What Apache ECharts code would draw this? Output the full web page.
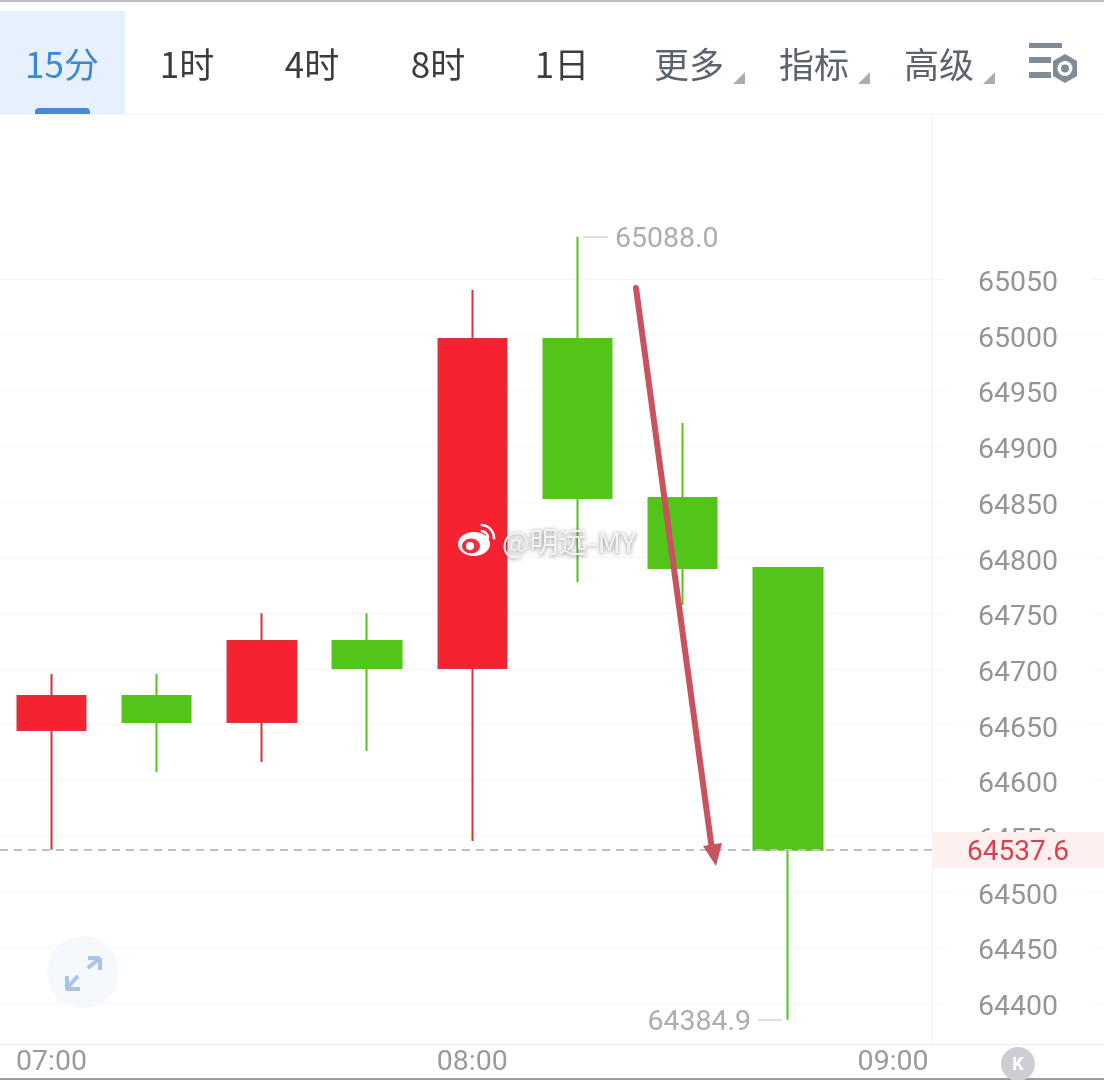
<!DOCTYPE html>
<html><head><meta charset="utf-8">
<style>html,body{margin:0;padding:0;background:#fff}#c{width:1104px;height:1080px}</style>
<script src="https://cdn.jsdelivr.net/npm/echarts@6/dist/echarts.min.js"></script>
</head><body><div id="c"></div>
<script>
const categories=['07:00','07:15','07:30','07:45','08:00','08:15','08:30','08:45','09:00','09:15','09:30'];
const openVals=[64645,64675.6,64652.3,64725,64700.7,64996,64853.4,64790.5];
const closeVals=[64675.6,64652.3,64725,64700.7,64996,64853.4,64790.5,64537.6];
const lowVals=[64537.6,64607.4,64616.3,64626.2,64545.4,64778,64757.3,64384.9];
const highVals=[64695.4,64695.4,64750,64750,65040,65088,64920.7,64790.5];
const yTicks=[64400,64450,64500,64550,64600,64650,64700,64750,64800,64850,64900,64950,65000,65050];
const lastPrice=64537.6, maxPrice=65088.0, minPrice=64384.9;
const tabs=['15分','1时','4时','8时','1日','更多','指标','高级'];
const tabX=[62,187,312,438,562,689,814,939];

const FONT='"Noto Sans CJK SC"';
const NUM='Roboto';
const g=[];
function rect(x,y,w,h,fill,r){g.push({type:'rect',z:100,shape:{x,y,width:w,height:h,r:r||0},style:{fill}});}
function line(x1,y1,x2,y2,stroke,w,cap){g.push({type:'line',z:100,shape:{x1,y1,x2,y2},style:{stroke,lineWidth:w,lineCap:cap||'butt'}});}
function text(t,x,y,font,fill,align,extra){g.push({type:'text',z:102,x,y,style:Object.assign({text:t,font,fill,align:align||'center',verticalAlign:'middle'},extra||{})});}
function poly(points,fill,z){g.push({type:'polygon',z:z||100,shape:{points},style:{fill}});}

// frame
rect(0,0,1104,2,'#bdbdbd');
rect(0,1078,1104,2,'#9a9a9a');
// toolbar
rect(0,11,125,103,'#e6f1fd');
rect(35,108,55,6,'#4a88d8',[4,4,0,0]);
line(0,114.5,1104,114.5,'#f4f4f4',1);
tabs.forEach((t,i)=>{
  const col=i===0?'#3b87d9':(i<5?'#3c3c3c':'#5c636b');
  text(t,tabX[i],65,'400 35px '+FONT,col);
  if(i>4){const ax=tabX[i]+56;poly([[ax-12,84],[ax,84],[ax,72]],'#a9aeb5');}
});
// settings icon
rect(1029,43,33,5,'#7f8b99');
rect(1029,57,22,6,'#7f8b99');
rect(1029,72,22,6,'#7f8b99');
g.push({type:'polygon',z:100,shape:{points:[[1065,54],[1077,61],[1077,76],[1065,83],[1053,76],[1053,61]]},style:{fill:'#7f8b99'}});
g.push({type:'circle',z:101,shape:{cx:1065,cy:68.5,r:7.5},style:{fill:'#fff'}});
g.push({type:'circle',z:101,shape:{cx:1065,cy:68.5,r:4},style:{fill:'#7f8b99'}});
// panel lines
line(932.5,114,932.5,1044,'#f0f0f0',1);
// last price tag
rect(932,832,172,36,'#fdf0ef');
text(String(lastPrice),1018,853,'400 28px '+NUM,'#d9404f');
// expand button
g.push({type:'circle',z:100,shape:{cx:83,cy:972,r:36},style:{fill:'#f5f8fd'}});
line(88,968,100,958,'#a9c4e8',4);line(88,958,100,958,'#a9c4e8',4);line(100,958,100,970,'#a9c4e8',4);
line(78,976,67,988,'#a9c4e8',4);line(67,976,67,990,'#a9c4e8',4);line(66,989,80,989,'#a9c4e8',4);
// collapse button
g.push({type:'circle',z:100,shape:{cx:1018,cy:1064,r:17},style:{fill:'#cdced3'}});
text('K',1018,1065,'700 18px '+NUM,'#fff');
// arrow annotation
line(636,288,712,850,'#c9525f',6,'round');
poly([[703,846],[722,843],[716,866]],'#c9525f',101);
// watermark
g.push({type:'ellipse',z:103,shape:{cx:474,cy:544,rx:16,ry:12},style:{fill:'#fff'}});
g.push({type:'ellipse',z:104,shape:{cx:471,cy:546,rx:9,ry:7.5},style:{fill:'#e8343f'}});
g.push({type:'circle',z:105,shape:{cx:470,cy:546,r:4},style:{fill:'#fff'}});
g.push({type:'arc',z:103,shape:{cx:481,cy:538,r:7,startAngle:-1.6,endAngle:0.1},style:{stroke:'#fff',lineWidth:2.5,fill:null}});
g.push({type:'arc',z:103,shape:{cx:481,cy:538,r:13,startAngle:-1.6,endAngle:0.1},style:{stroke:'#fff',lineWidth:2.5,fill:null}});
text('@明远-MY',502,542,'400 29px '+FONT,'#f2f2f2','left',{textShadowColor:'rgba(80,80,80,.7)',textShadowBlur:4,textShadowOffsetX:0,textShadowOffsetY:1});

const chart=echarts.init(document.getElementById('c'),null,{renderer:'canvas'});
const band=105.2;
const extremeLabel=v=>({show:true,position:'end',formatter:v.toFixed(1),color:'#adadad',fontFamily:NUM,fontSize:28.5,distance:7,verticalAlign:'top',lineHeight:6});
chart.setOption({
  animation:false,
  backgroundColor:'#fff',
  grid:{left:-1.1,top:114,width:band*categories.length,height:930,containLabel:false,outerBoundsMode:'none'},
  xAxis:{type:'category',data:categories,
    axisLine:{show:true,lineStyle:{color:'#eeeeee',width:1}},axisTick:{show:false},splitLine:{show:false},
    axisLabel:{interval:3,color:'#9a9a9a',fontFamily:NUM,fontSize:28.5,margin:4,verticalAlign:'top',hideOverlap:false}},
  yAxis:{type:'value',position:'left',offset:-1093.1,min:64363.2,max:65198.1,
    axisLine:{show:false},axisTick:{show:false,customValues:yTicks},
    splitLine:{show:true,customValues:yTicks,lineStyle:{color:'#f6f6f6',width:1}},
    axisLabel:{customValues:yTicks,formatter:v=>String(v),color:'#959595',fontFamily:NUM,fontSize:28.5,margin:0,verticalAlign:'top',lineHeight:4,backgroundColor:'#fff',padding:[3,34,0,33],showMinLabel:true,showMaxLabel:true}},
  series:[{type:'candlestick',barWidth:69,
    data:openVals.map((o,i)=>[o,closeVals[i],lowVals[i],highVals[i]]),
    itemStyle:{color:'#f62232',color0:'#53c41a',borderColor:'#d8323c',borderColor0:'#53c41a',borderWidth:2},
    markLine:{silent:true,symbol:'none',animation:false,data:[
      [{x:0,yAxis:lastPrice,lineStyle:{color:'#c0c0c0',type:[8,6],width:2},label:{show:false}},{x:932,yAxis:lastPrice}],
      [{x:583,yAxis:maxPrice,lineStyle:{color:'#d4d4d4',type:'solid',width:1.5},label:extremeLabel(maxPrice)},{x:608,yAxis:maxPrice}],
      [{x:782,yAxis:minPrice,lineStyle:{color:'#d4d4d4',type:'solid',width:1.5},label:extremeLabel(minPrice)},{x:758,yAxis:minPrice}]
    ]}
  }],
  graphic:{elements:g}
});
</script></body></html>
